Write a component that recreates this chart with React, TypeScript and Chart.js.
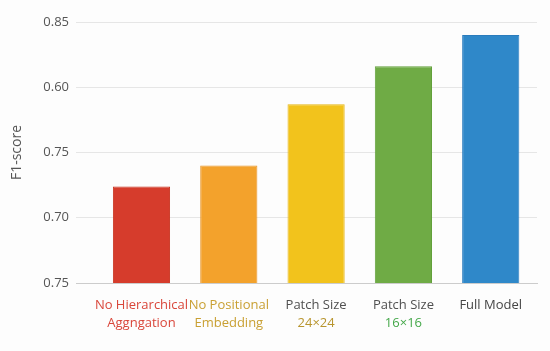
import React, { useEffect, useRef } from "react";
import { Chart, registerables } from "chart.js";

Chart.register(...registerables);

const categories: string[][] = [
  ["No Hierarchical", "Aggngation"],
  ["No Positional", "Embedding"],
  ["Patch Size", "24×24"],
  ["Patch Size", "16×16"],
  ["Full Model"],
];
const f1Scores = [0.724, 0.74, 0.787, 0.816, 0.84];
const yTickValues = [0.65, 0.7, 0.75, 0.8, 0.85];
const yTickLabels = ["0.75", "0.70", "0.75", "0.60", "0.85"];

const barColors = ["#d63c2c", "#f3a22c", "#f2c31c", "#6fab45", "#2f88c9"];
const barBorders = ["#c8321f", "#e8962a", "#e6b615", "#62a03c", "#2a7cbd"];
const labelColors: string[][] = [
  ["#d9463a", "#d9463a"],
  ["#c9a033", "#c9a033"],
  ["#505050", "#b8952e"],
  ["#505050", "#45a84a"],
  ["#454545"],
];

const FONT = "'Open Sans', 'DejaVu Sans', sans-serif";

export default function App() {
  const ref = useRef<HTMLCanvasElement | null>(null);
  useEffect(() => {
    if (!ref.current) return;
    const labelPlugin = {
      id: "multiColorLabels",
      afterDraw(chart: any) {
        const ctx = chart.ctx;
        const xs = chart.scales.x;
        const bottom = chart.chartArea.bottom;
        ctx.save();
        ctx.font = `13px ${FONT}`;
        ctx.textAlign = "center";
        ctx.textBaseline = "middle";
        categories.forEach((lines, i) => {
          const x = xs.getPixelForValue(i);
          lines.forEach((t, j) => {
            ctx.fillStyle = labelColors[i][j];
            ctx.fillText(t, x, bottom + 22 + j * 18);
          });
        });
        ctx.restore();
      },
    };
    const chart = new Chart(ref.current, {
      type: "bar",
      data: {
        datasets: [
          {
            data: f1Scores.map((v, i) => ({ x: i, y: v })),
            backgroundColor: barColors,
            borderColor: barBorders,
            borderWidth: 1,
            barPercentage: 0.655,
            categoryPercentage: 1,
          },
        ],
      },
      options: {
        animation: false,
        responsive: true,
        maintainAspectRatio: false,
        layout: { padding: { top: 22, right: 13, left: 0, bottom: 0 } },
        plugins: { legend: { display: false }, tooltip: { enabled: false } },
        scales: {
          x: {
            type: "linear",
            offset: false,
            min: -0.75,
            max: 4.53,
            afterBuildTicks: (s: any) => {
              s.ticks = categories.map((_, i) => ({ value: i }));
            },
            afterFit: (s: any) => {
              s.height = 68;
            },
            grid: { display: false, offset: false },
            border: { display: true, color: "#cccccc", width: 1 },
            ticks: { display: false },
          },
          y: {
            min: 0.65,
            max: 0.85,
            afterBuildTicks: (s: any) => {
              s.ticks = yTickValues.map((v) => ({ value: v }));
            },
            afterFit: (s: any) => {
              s.width = 76;
            },
            grid: { color: "#e6e6e6", drawTicks: false, lineWidth: 1 },
            border: { display: false },
            ticks: {
              padding: 7,
              color: "#555555",
              font: { family: FONT, size: 13 },
              callback: (_v: any, i: number) => yTickLabels[i],
            },
            title: {
              display: true,
              text: "F1-score",
              color: "#555555",
              font: { family: FONT, size: 14 },
              padding: { top: 9, bottom: 0 },
            },
          },
        },
      },
      plugins: [labelPlugin],
    } as any);
    return () => chart.destroy();
  }, []);
  return (
    <div
      style={{
        position: "absolute",
        left: 0,
        top: 0,
        width: 550,
        height: 351,
        background: "#fdfdfd",
      }}
    >
      <canvas ref={ref} />
    </div>
  );
}
